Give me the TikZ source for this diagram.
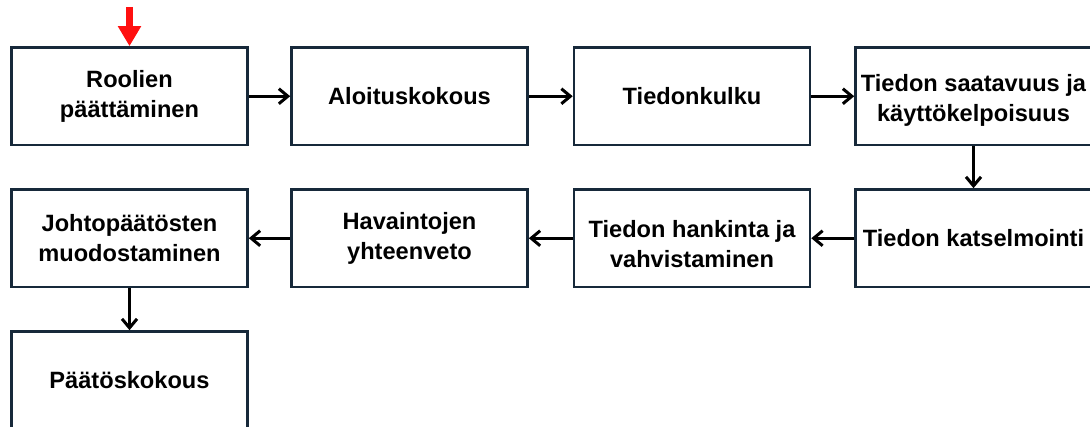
\documentclass[tikz,border=0pt]{standalone}
\usepackage{fontspec}
\setmainfont{Liberation Sans}
\usetikzlibrary{arrows.meta}
\definecolor{boxline}{HTML}{17293A}
\definecolor{flagred}{HTML}{FF1010}
% taller first line pushes a two-line label a little lower in its box
\newcommand{\tallstrut}[1]{\rule{0pt}{#1}}
\begin{document}
\begin{tikzpicture}[x=1pt,y=-1pt,
  stage/.style={draw=boxline, line width=2.6pt, minimum width=236pt,
    minimum height=97.5pt, inner sep=0pt, align=center,
    font=\fontsize{23.6}{30}\selectfont\bfseries},
  flow/.style={line width=3pt, -{Straight Barb[length=9pt,width=15pt]}},
  start/.style={flagred, line width=7pt, -{Triangle[length=20pt,width=22pt]}},
]
\useasboundingbox (0,0) rectangle (1090,427);
\clip (0,0) rectangle (1090,427);

% first row, left to right
\node[stage] (roles)   at (129.5,96.25) {Roolien\\päättäminen};
\node[stage] (kickoff) at (409.5,96.25) {Aloituskokous};
\node[stage] (info)    at (692,96.25)   {Tiedonkulku};
\node[stage] (avail)   at (973.5,96.25) {\tallstrut{25pt}Tiedon saatavuus ja\\käyttökelpoisuus};

% second row, right to left
\node[stage] (review)  at (973.5,238.25) {Tiedon katselmointi};
\node[stage] (acquire) at (692,238.25)   {\tallstrut{29pt}Tiedon hankinta ja\\vahvistaminen};
\node[stage] (summary) at (409.5,238.25) {Havaintojen\\yhteenveto};
\node[stage] (concl)   at (129.5,238.25) {Johtopäätösten\\muodostaminen};

% third row
\node[stage] (decision) at (129.5,380.25) {Päätöskokous};

% connectors
\draw[flow] (roles) -- (kickoff);
\draw[flow] (kickoff) -- (info);
\draw[flow] (info) -- (avail);
\draw[flow] (avail) -- (review);
\draw[flow] (review) -- (acquire);
\draw[flow] (acquire) -- (summary);
\draw[flow] (summary) -- (concl);
\draw[flow] (concl) -- (decision);

% starting marker
\coordinate (entry) at (129.5,7);
\draw[start] (entry) -- (roles.north);
\end{tikzpicture}
\end{document}
